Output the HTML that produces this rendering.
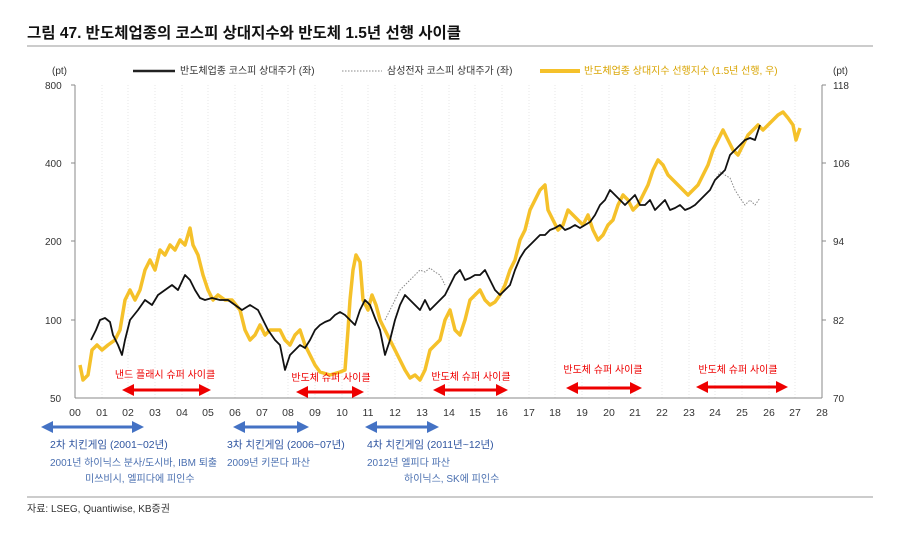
<!DOCTYPE html>
<html><head><meta charset="utf-8"><style>
body{margin:0;background:#fff;}
svg text{font-family:"Liberation Sans","Noto Sans CJK KR",sans-serif;}
</style></head><body>
<svg width="900" height="537" xmlns="http://www.w3.org/2000/svg">
<text x="27" y="38" font-size="15.5" font-weight="bold" fill="#111">그림 47. 반도체업종의 코스피 상대지수와 반도체 1.5년 선행 사이클</text>
<line x1="27" y1="46" x2="873" y2="46" stroke="#999" stroke-width="1"/>
<g font-size="10" fill="#333">
<text x="52" y="74">(pt)</text><text x="833" y="74">(pt)</text>
<line x1="133" y1="71" x2="175" y2="71" stroke="#222" stroke-width="2.5"/><text x="180" y="74">반도체업종 코스피 상대주가 (좌)</text>
<line x1="342" y1="71" x2="382" y2="71" stroke="#888" stroke-width="1" stroke-dasharray="1.5,1.5"/><text x="387" y="74">삼성전자 코스피 상대주가 (좌)</text>
<line x1="540" y1="71" x2="580" y2="71" stroke="#f5c12a" stroke-width="4"/><text x="584" y="74" fill="#d9a400">반도체업종 상대지수 선행지수 (1.5년 선행, 우)</text>
<text x="45" y="89">800</text><text x="45" y="167">400</text><text x="45" y="245">200</text><text x="45" y="324">100</text><text x="50" y="402">50</text>
<text x="833" y="89">118</text><text x="833" y="167">106</text><text x="833" y="245">94</text><text x="833" y="324">82</text><text x="833" y="402">70</text>
</g>
<g stroke="#ddd" stroke-width="0.7" stroke-dasharray="1,2">
<line x1="102" y1="85" x2="102" y2="398"/><line x1="128" y1="85" x2="128" y2="398"/><line x1="155" y1="85" x2="155" y2="398"/><line x1="182" y1="85" x2="182" y2="398"/><line x1="208" y1="85" x2="208" y2="398"/><line x1="235" y1="85" x2="235" y2="398"/><line x1="262" y1="85" x2="262" y2="398"/><line x1="288" y1="85" x2="288" y2="398"/><line x1="315" y1="85" x2="315" y2="398"/><line x1="342" y1="85" x2="342" y2="398"/><line x1="368" y1="85" x2="368" y2="398"/><line x1="395" y1="85" x2="395" y2="398"/><line x1="422" y1="85" x2="422" y2="398"/><line x1="449" y1="85" x2="449" y2="398"/><line x1="475" y1="85" x2="475" y2="398"/><line x1="502" y1="85" x2="502" y2="398"/><line x1="529" y1="85" x2="529" y2="398"/><line x1="555" y1="85" x2="555" y2="398"/><line x1="582" y1="85" x2="582" y2="398"/><line x1="609" y1="85" x2="609" y2="398"/><line x1="635" y1="85" x2="635" y2="398"/><line x1="662" y1="85" x2="662" y2="398"/><line x1="689" y1="85" x2="689" y2="398"/><line x1="715" y1="85" x2="715" y2="398"/><line x1="742" y1="85" x2="742" y2="398"/><line x1="769" y1="85" x2="769" y2="398"/><line x1="795" y1="85" x2="795" y2="398"/>
</g>
<g stroke="#888" stroke-width="1">
<line x1="75" y1="85" x2="75" y2="398"/><line x1="822" y1="85" x2="822" y2="398"/><line x1="75" y1="398" x2="822" y2="398"/>
<line x1="71" y1="85" x2="75" y2="85"/><line x1="71" y1="163" x2="75" y2="163"/><line x1="71" y1="241" x2="75" y2="241"/><line x1="71" y1="320" x2="75" y2="320"/>
<line x1="822" y1="85" x2="826" y2="85"/><line x1="822" y1="163" x2="826" y2="163"/><line x1="822" y1="241" x2="826" y2="241"/><line x1="822" y1="320" x2="826" y2="320"/>
</g>
<g font-size="10.5" fill="#333" text-anchor="middle">
<text x="75" y="416">00</text><text x="102" y="416">01</text><text x="128" y="416">02</text><text x="155" y="416">03</text><text x="182" y="416">04</text><text x="208" y="416">05</text><text x="235" y="416">06</text><text x="262" y="416">07</text><text x="288" y="416">08</text><text x="315" y="416">09</text><text x="342" y="416">10</text><text x="368" y="416">11</text><text x="395" y="416">12</text><text x="422" y="416">13</text><text x="449" y="416">14</text><text x="475" y="416">15</text><text x="502" y="416">16</text><text x="529" y="416">17</text><text x="555" y="416">18</text><text x="582" y="416">19</text><text x="609" y="416">20</text><text x="635" y="416">21</text><text x="662" y="416">22</text><text x="689" y="416">23</text><text x="715" y="416">24</text><text x="742" y="416">25</text><text x="769" y="416">26</text><text x="795" y="416">27</text><text x="822" y="416">28</text>
</g>
<polyline fill="none" stroke="#f5c12a" stroke-width="3.5" stroke-linejoin="round" points="80,365 83,380 88,375 92,350 97,345 102,350 108,345 115,340 120,330 125,300 130,290 135,300 140,290 145,270 150,260 155,270 160,250 165,255 170,245 175,250 180,240 185,245 190,228 193,245 198,255 203,275 208,290 213,300 218,295 225,300 232,300 240,310 245,330 250,340 255,335 260,325 265,335 270,330 275,330 280,330 285,340 290,345 295,335 300,330 305,345 310,355 315,365 320,372 330,375 340,372 345,370 348,330 350,300 353,270 356,255 360,262 363,300 368,310 372,295 376,305 380,320 385,330 390,340 395,350 400,360 405,370 410,378 415,375 420,380 425,370 430,350 435,345 440,340 445,320 450,310 455,330 460,335 465,320 470,300 475,295 480,290 485,300 490,305 495,302 500,295 505,285 510,270 515,260 520,240 525,230 530,210 535,200 540,190 545,185 548,210 553,220 558,230 563,225 568,210 573,215 578,220 583,225 588,215 593,230 598,240 603,235 608,225 613,220 618,205 623,195 628,200 633,210 638,205 643,195 648,185 653,170 658,160 663,165 668,175 673,180 678,185 683,190 688,195 693,190 698,185 703,175 708,165 713,150 718,140 723,130 728,140 733,150 738,155 743,145 748,135 753,130 758,125 763,130 768,125 773,120 778,115 783,112 788,118 793,125 796,140 800,128"/>
<polyline fill="none" stroke="#888" stroke-width="1" stroke-dasharray="1.5,1.5" points="385,320 390,310 395,300 400,290 405,285 410,280 415,275 420,270 425,272 430,268 435,272 440,275 445,285"/>
<polyline fill="none" stroke="#888" stroke-width="1" stroke-dasharray="1.5,1.5" points="715,180 720,172 725,175 730,178 735,190 740,198 745,205 750,200 755,205 760,198"/>
<polyline fill="none" stroke="#111" stroke-width="1.8" stroke-linejoin="round" points="91,340 96,330 100,320 105,318 110,322 113,335 118,345 122,355 125,340 130,320 138,310 145,300 152,305 158,295 165,290 172,285 178,290 185,275 190,280 195,290 200,298 205,300 212,298 220,300 228,300 235,305 242,310 250,305 258,310 263,320 268,330 275,340 280,345 285,370 290,355 295,350 300,345 305,348 310,340 315,330 320,325 325,322 330,320 335,315 340,312 345,315 350,320 355,325 360,310 365,300 370,305 375,318 380,330 385,355 390,340 395,320 400,305 405,295 410,300 415,305 420,310 425,300 430,310 435,305 440,300 445,295 450,285 455,275 460,270 465,280 470,278 475,275 480,275 485,270 490,280 495,290 500,295 505,290 510,285 515,270 520,258 525,250 530,245 535,240 540,235 545,235 550,230 555,228 560,225 565,230 570,228 575,225 580,228 585,225 590,222 595,215 600,205 605,200 610,190 615,195 620,200 625,205 630,200 635,195 640,205 645,205 650,200 655,210 660,205 665,200 670,210 675,208 680,205 685,210 690,208 695,205 700,200 705,195 710,190 715,180 720,175 725,170 730,155 735,150 740,145 745,140 750,138 755,140 760,125"/>
<defs>
<marker id="r" markerWidth="4" markerHeight="4" refX="2" refY="2" orient="auto-start-reverse"><path d="M0,0 L4,2 L0,4z" fill="#e00"/></marker>
<marker id="b" markerWidth="4" markerHeight="4" refX="2" refY="2" orient="auto-start-reverse"><path d="M0,0 L4,2 L0,4z" fill="#4472c4"/></marker>
</defs>
<g stroke="#e00" stroke-width="3">
<line x1="128" y1="390" x2="205" y2="390" marker-start="url(#r)" marker-end="url(#r)"/>
<line x1="302" y1="392" x2="358" y2="392" marker-start="url(#r)" marker-end="url(#r)"/>
<line x1="439" y1="390" x2="502" y2="390" marker-start="url(#r)" marker-end="url(#r)"/>
<line x1="572" y1="388" x2="636" y2="388" marker-start="url(#r)" marker-end="url(#r)"/>
<line x1="702" y1="387" x2="782" y2="387" marker-start="url(#r)" marker-end="url(#r)"/>
</g>
<g font-size="10" fill="#e00" text-anchor="middle">
<text x="165" y="378">낸드 플래시 슈퍼 사이클</text><text x="331" y="381">반도체 슈퍼 사이클</text><text x="471" y="380">반도체 슈퍼 사이클</text><text x="603" y="373">반도체 슈퍼 사이클</text><text x="738" y="373">반도체 슈퍼 사이클</text>
</g>
<g stroke="#4472c4" stroke-width="3">
<line x1="47" y1="427" x2="138" y2="427" marker-start="url(#b)" marker-end="url(#b)"/>
<line x1="239" y1="427" x2="303" y2="427" marker-start="url(#b)" marker-end="url(#b)"/>
<line x1="371" y1="427" x2="433" y2="427" marker-start="url(#b)" marker-end="url(#b)"/>
</g>
<g font-size="10" fill="#4a6fb0">
<text x="50" y="448" font-size="10.5" fill="#2f55a0">2차 치킨게임 (2001~02년)</text>
<text x="50" y="466">2001년 하이닉스 분사/도시바, IBM 퇴출</text>
<text x="85" y="482">미쓰비시, 엘피다에 피인수</text>
<text x="227" y="448" font-size="10.5" fill="#2f55a0">3차 치킨게임 (2006~07년)</text>
<text x="227" y="466">2009년 키몬다 파산</text>
<text x="367" y="448" font-size="10.5" fill="#2f55a0">4차 치킨게임 (2011년~12년)</text>
<text x="367" y="466">2012년 엘피다 파산</text>
<text x="404" y="482">하이닉스, SK에 피인수</text>
</g>
<line x1="27" y1="497" x2="873" y2="497" stroke="#999" stroke-width="1"/>
<text x="27" y="512" font-size="10" fill="#333">자료: LSEG, Quantiwise, KB증권</text>
</svg>
</body></html>
